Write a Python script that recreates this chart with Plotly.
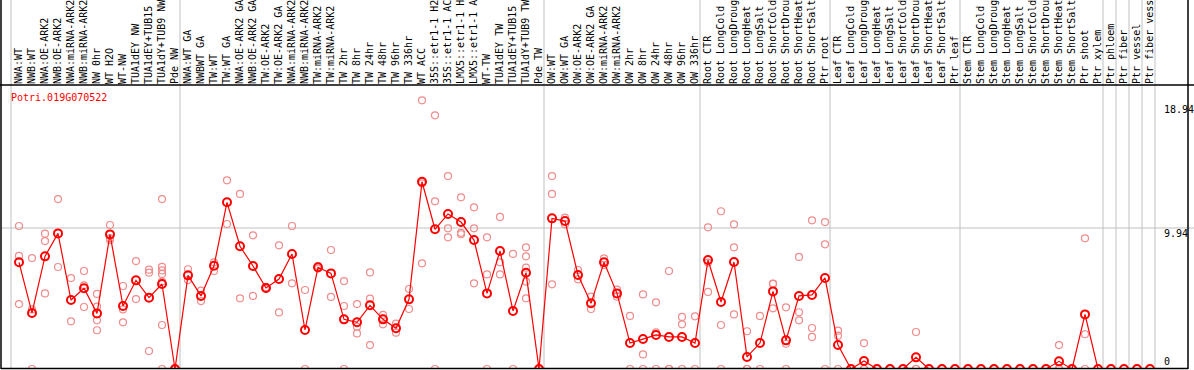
import plotly.graph_objects as go

categories = [
    "NWA:WT", "NWB:WT", "NWA:OE-ARK2", "NWB:OE-ARK2", "NWA:miRNA-ARK2", "NWB:miRNA-ARK2",
    "NW 0hr", "WT H2O", "WT-NW", "TUA1dEY NW", "TUA1dEY+TUB15 NW", "TUA1dY+TUB9 NW", "Pde NW",
    "NWA:WT GA", "NWBWT GA", "TW:WT", "TW:WT GA", "NWA:OE-ARK2 GA", "NWB:OE-ARK2 GA",
    "TW:OE-ARK2", "TW:OE-ARK2 GA", "NWA:miRNA-ARK2", "NWB:miRNA-ARK2", "TW:miRNA-ARK2",
    "TW:miRNA-ARK2", "TW 2hr", "TW 8hr", "TW 24hr", "TW 48hr", "TW 96hr", "TW 336hr",
    "WT ACC", "35S::etr1-1 H2O", "35S::etr1-1 ACC", "LMX5::etr1-1 H2O", "LMX5::etr1-1 ACC",
    "WT-TW", "TUA1dEY TW", "TUA1dEY+TUB15 TW", "TUA1dY+TUB9 TW", "Pde TW",
    "OW:WT", "OW:WT GA", "OW:OE-ARK2", "OW:OE-ARK2 GA", "OW:miRNA-ARK2", "OW:miRNA-ARK2",
    "OW 2hr", "OW 8hr", "OW 24hr", "OW 48hr", "OW 96hr", "OW 336hr",
    "Root CTR", "Root LongCold", "Root LongDrought", "Root LongHeat", "Root LongSalt",
    "Root ShortCold", "Root ShortDrought", "Root ShortHeat", "Root ShortSalt", "Ptr root",
    "Leaf CTR", "Leaf LongCold", "Leaf LongDrought", "Leaf LongHeat", "Leaf LongSalt",
    "Leaf ShortCold", "Leaf ShortDrought", "Leaf ShortHeat", "Leaf ShortSalt", "Ptr leaf",
    "Stem CTR", "Stem LongCold", "Stem LongDrought", "Stem LongHeat", "Stem LongSalt",
    "Stem ShortCold", "Stem ShortDrought", "Stem ShortHeat", "Stem ShortSalt", "Ptr shoot",
    "Ptr xylem", "Ptr phloem", "Ptr fiber", "Ptr vessel", "Ptr fiber vessel",
]

mean_values = [
    7.52, 3.95, 7.94, 9.56, 4.86, 5.69, 3.92, 9.49, 4.44, 6.25, 5.03, 5.99, 0.0,
    6.60, 5.15, 7.28, 11.75, 8.65, 7.26, 5.71, 6.34, 8.11, 2.75, 7.17, 6.74, 3.50,
    3.29, 4.49, 3.50, 2.87, 4.91, 13.20, 9.85, 10.93, 10.36, 9.09, 5.33, 8.32, 4.09,
    6.79, 0.0,
    10.62, 10.43, 6.63, 4.63, 7.52, 5.33, 1.83, 2.11, 2.40, 2.26, 2.26, 1.83,
    7.68, 4.72, 7.54, 0.85, 1.83, 5.47, 2.02, 5.15, 5.22, 6.42,
    1.69, 0.0, 0.56, 0.0, 0.0, 0.0, 0.82, 0.0, 0.0, 0.0,
    0.0, 0.0, 0.0, 0.0, 0.0, 0.0, 0.0, 0.54, 0.0, 3.85,
    0.0, 0.0, 0.0, 0.0, 0.0,
]

replicate_values = [
    [10.08, 7.97, 4.58], [7.82, 4.20, 0.0], [9.54, 9.02, 5.33], [11.98, 7.19],
    [6.41, 3.36], [6.91, 5.90, 4.37], [5.29, 4.39, 3.43, 2.73], [10.15, 9.21, 9.09],
    [5.85, 4.20, 3.29], [7.61, 4.93], [7.00, 6.79, 1.27],
    [11.98, 7.20, 6.95, 6.70, 6.16, 3.10, 0.0], [0.0, 0.0, 0.0],
    [7.03, 6.27], [5.52, 4.79], [7.52, 6.91], [13.30, 10.22], [12.34, 4.98],
    [9.42, 5.15], [5.78, 5.65], [8.72, 3.99], [10.08, 6.04], [5.57, 0.0],
    [7.26, 7.08], [8.39, 5.08], [6.20, 4.44, 0.0], [4.58, 2.98, 2.51],
    [6.81, 4.96, 1.69], [3.81, 3.55, 3.15], [3.20, 2.56], [5.64, 4.23],
    [18.94, 13.09, 7.45], [17.88, 11.82, 0.0], [13.60, 9.92, 9.28], [12.10, 9.60, 9.50],
    [11.40, 9.92, 6.04], [9.28, 6.67, 0.0], [10.72, 7.52, 6.67], [8.11, 0.0],
    [8.58, 7.94, 7.14, 6.16, 4.98], [0.0, 0.0, 0.0],
    [13.60, 12.34, 5.97], [10.67, 10.20], [6.98, 6.32], [5.10, 4.23], [7.80, 7.33],
    [5.59, 5.10], [3.74, 0.0], [5.26, 1.03, 0.0], [4.70, 2.58, 0.0], [6.91, 0.0, 0.0],
    [3.67, 3.15, 0.0], [3.71, 0.0],
    [9.99, 7.50, 5.43], [11.12, 3.10, 0.0], [10.20, 8.58, 3.85], [2.66, 0.0, 0.0],
    [3.74, 0.0], [6.02, 6.00, 4.28], [4.35, 1.78, 0.0], [7.90, 4.00, 3.43],
    [10.48, 2.89, 2.26], [10.36, 8.79, 0.0],
    [2.70, 2.35, 0.0], [0.0, 0.0], [1.83, 0.0, 0.0], [0.0, 0.0], [0.0, 0.0], [0.0, 0.0],
    [2.61, 0.0, 0.0], [0.0, 0.0], [0.0, 0.0], [0.0],
    [0.0, 0.0], [0.0, 0.0], [0.0, 0.0], [0.0, 0.0], [0.0, 0.0], [0.0, 0.0], [0.0, 0.0],
    [1.69, 0.0, 0.0], [0.0, 0.0], [9.21, 2.45, 0.0],
    [0.0], [0.0], [0.0], [0.0], [0.0],
]

# index of the last sample in each group (separator lines drawn after them)
group_last_index = [-1, 12, 40, 52, 62, 72, 83, 84, 85, 86, 87]
y_tick_values = [18.94, 9.94, 0]
gene_name = "Potri.019G070522"

FONT = "DejaVu Sans Mono"
W, H = 1194, 370
ML, MR, MT, MB = 1, 6, 85, 1
PW, PH = W - ML - MR, H - MT - MB
PX_PER_SAMPLE = 13.0
X0 = -(19 - ML) / PX_PER_SAMPLE
X1 = X0 + PW / PX_PER_SAMPLE
Y_TOP = 20.02

xs = list(range(len(categories)))
rep_x, rep_y = [], []
for i, reps in enumerate(replicate_values):
    for v in reps:
        rep_x.append(i)
        rep_y.append(v)

fig = go.Figure()
fig.add_trace(go.Scatter(
    x=rep_x, y=rep_y, mode="markers",
    marker=dict(symbol="circle-open", size=7, color="#f08c8c", line=dict(width=1.2, color="#f08c8c")),
    hoverinfo="skip", showlegend=False,
))
fig.add_trace(go.Scatter(
    x=xs, y=mean_values, mode="lines+markers",
    line=dict(color="#ff0000", width=1.2),
    marker=dict(symbol="circle-open", size=8, color="#ff0000", line=dict(width=2, color="#ff0000")),
    showlegend=False,
))

top_paper = 1 + MT / PH
shapes = []
for g in group_last_index:
    xv = g + 5 / PX_PER_SAMPLE
    shapes.append(dict(type="line", xref="x", yref="paper", x0=xv, x1=xv, y0=0, y1=top_paper,
                       line=dict(color="#c0c0c0", width=1), layer="below"))
shapes.append(dict(type="line", xref="paper", yref="y", x0=0, x1=(W - ML) / PW, y0=9.94, y1=9.94,
                   line=dict(color="#c0c0c0", width=1), layer="below"))
# frame
for xp in (0, 1):
    shapes.append(dict(type="line", xref="paper", yref="paper", x0=xp, x1=xp, y0=0, y1=top_paper,
                       line=dict(color="black", width=1.5)))
shapes.append(dict(type="line", xref="paper", yref="paper", x0=-ML / PW, x1=(W - ML) / PW, y0=1, y1=1,
                   line=dict(color="black", width=1.5)))
shapes.append(dict(type="line", xref="paper", yref="paper", x0=0, x1=1, y0=0.002, y1=0.002,
                   line=dict(color="black", width=1.5)))

annotations = [dict(text=gene_name, xref="paper", yref="paper", x=(9 - ML) / PW, y=(H - MB - 97) / PH,
                    xanchor="left", yanchor="middle", showarrow=False,
                    font=dict(family=FONT, size=10, color="#ff0000"))]
for v in y_tick_values:
    annotations.append(dict(text=f"{v:g}", xref="paper", yref="y", x=(1162 - ML) / PW, y=v,
                            xanchor="left", yanchor="bottom" if v == 0 else "top",
                            yshift=0 if v == 0 else (-2 if v > 10 else 2),
                            showarrow=False, font=dict(family=FONT, size=10, color="black")))

fig.update_layout(
    width=W, height=H, margin=dict(l=ML, r=MR, t=MT, b=MB, autoexpand=False),
    paper_bgcolor="white", plot_bgcolor="white",
    shapes=shapes, annotations=annotations,
    xaxis=dict(range=[X0, X1], side="top", tickmode="array", tickvals=xs, ticktext=categories,
               tickangle=-90, tickfont=dict(family=FONT, size=10, color="black"),
               showgrid=False, zeroline=False, showline=False, ticks="", automargin=False,
               fixedrange=True),
    yaxis=dict(range=[0, Y_TOP], showgrid=False, zeroline=False, showticklabels=False,
               showline=False, ticks="", fixedrange=True),
    hovermode=False,
)
fig.write_html("out.html", config={"displayModeBar": False, "staticPlot": True},
               post_script="document.body.style.margin='0px';document.body.style.overflow='hidden';")
